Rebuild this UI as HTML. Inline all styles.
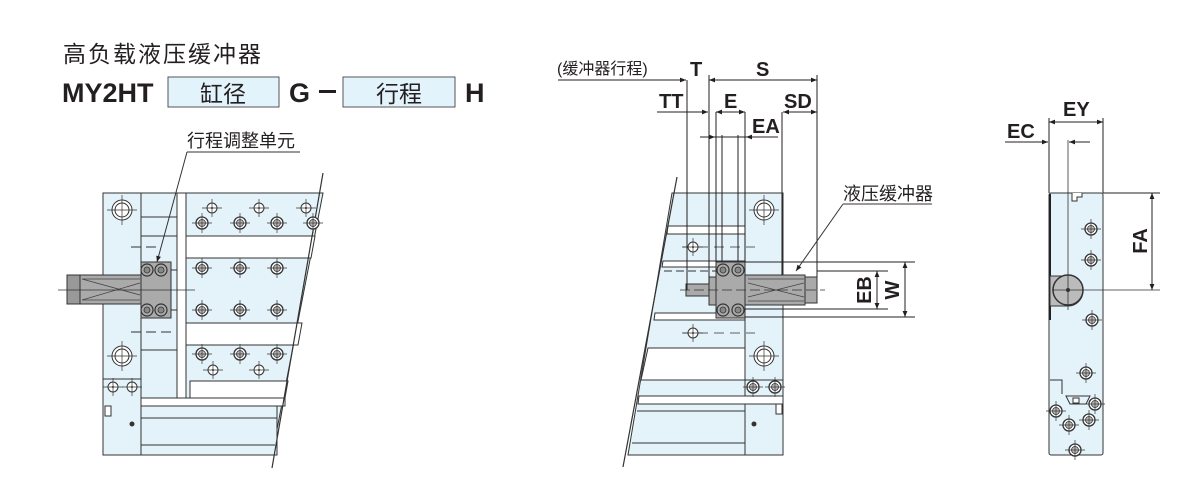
<!DOCTYPE html>
<html><head><meta charset="utf-8"><style>
html,body{margin:0;padding:0;background:#fff;}
svg{display:block;}
text{font-family:"Liberation Sans","Noto Sans CJK SC",sans-serif;fill:#231f20;}
.b{font-weight:bold;}
</style></head><body>
<svg width="1200" height="500" viewBox="0 0 1200 500" xmlns="http://www.w3.org/2000/svg">
<defs>
<marker id="ar" viewBox="0 0 10 10" refX="10" refY="5" markerWidth="8" markerHeight="6" orient="auto-start-reverse"><path d="M0,1 L10,5 L0,9 z" fill="#231f20"/></marker>
<g id="sc"><circle r="6" fill="#fff" stroke="#333" stroke-width="1.3"/><circle r="3.5" fill="#bbb" stroke="#333" stroke-width="0.8"/><line x1="-10" y1="0" x2="10" y2="0" stroke="#333" stroke-width="0.7"/><line x1="0" y1="-10" x2="0" y2="10" stroke="#333" stroke-width="0.7"/></g>
<g id="bh"><circle r="10" fill="#fff" stroke="#333" stroke-width="1"/><circle r="7" fill="none" stroke="#333" stroke-width="1"/><line x1="-15" y1="0" x2="15" y2="0" stroke="#333" stroke-width="0.7"/><line x1="0" y1="-15" x2="0" y2="15" stroke="#333" stroke-width="0.7"/></g>
<g id="sm"><circle r="5" fill="#fff" stroke="#333" stroke-width="1"/><circle r="1" fill="#333"/><line x1="-10" y1="0" x2="10" y2="0" stroke="#333" stroke-width="0.7"/><line x1="0" y1="-9" x2="0" y2="9" stroke="#333" stroke-width="0.7"/></g>
<g id="bs"><circle r="6" fill="#aaa" stroke="#333" stroke-width="1.2"/><circle r="3" fill="#888" stroke="#333" stroke-width="0.8"/></g>
</defs>

<!-- Header -->
<text x="63" y="62" font-size="23" letter-spacing="2">高负载液压缓冲器</text>
<text x="62" y="102" font-size="27" class="b">MY2HT</text>
<rect x="168" y="77" width="111" height="30" fill="#e3f3fb" stroke="#555" stroke-width="1"/>
<text x="223" y="102" font-size="23" text-anchor="middle">缸径</text>
<text x="289" y="102" font-size="27" class="b">G</text>
<rect x="319" y="90" width="17" height="3" fill="#231f20"/>
<rect x="343" y="77" width="112" height="30" fill="#e3f3fb" stroke="#555" stroke-width="1"/>
<text x="399" y="102" font-size="23" text-anchor="middle">行程</text>
<text x="465" y="102" font-size="27" class="b">H</text>

<!-- LEFT VIEW -->
<g stroke="#333" stroke-width="1" fill="#e4f3fa">
<polygon points="186,193 323,193 272,455 186,455"/>
<rect x="103" y="193" width="38" height="262"/>
<rect x="141" y="193" width="36" height="205"/>
<rect x="177" y="193" width="9" height="205" fill="#fff"/>
<rect x="141" y="398" width="144" height="8" fill="#fff"/>
<rect x="141" y="406" width="136" height="49"/>
<polygon points="186,236 315,236 311,258 186,258" fill="#fff"/>
<polygon points="186,323 302,323 298,345 186,345" fill="#fff"/>
<polygon points="190,381 288,381 285,398 190,398" fill="#fff"/>
<line x1="141" y1="418" x2="277" y2="418"/>
<line x1="141" y1="445" x2="275" y2="445"/>
<line x1="141" y1="217" x2="177" y2="217"/>
<line x1="141" y1="236" x2="177" y2="236"/>
<line x1="141" y1="350" x2="177" y2="350"/>
<line x1="141" y1="379" x2="141" y2="398"/>
<line x1="103" y1="379" x2="141" y2="379"/>
</g>
<line x1="323" y1="173" x2="272" y2="468" stroke="#333" stroke-width="1.2"/>
<line x1="131" y1="247" x2="160" y2="247" stroke="#333" stroke-dasharray="10,5"/>
<line x1="131" y1="332" x2="171" y2="332" stroke="#333" stroke-dasharray="10,5"/>
<rect x="67" y="275" width="74" height="29" fill="#aaa" stroke="#333"/>
<rect x="67" y="275" width="13" height="29" fill="#999" stroke="#333"/>
<path d="M82,279 L140,279 M82,300 L140,300 M82,279 L140,295 M82,300 L140,283" stroke="#444" fill="none" stroke-width="0.8"/>
<rect x="141" y="262" width="30" height="56" fill="#aaa" stroke="#333"/>
<line x1="171" y1="270" x2="177" y2="270" stroke="#333"/><line x1="171" y1="310" x2="177" y2="310" stroke="#333"/>
<line x1="58" y1="290" x2="195" y2="290" stroke="#333" stroke-width="0.7"/>
<use href="#bs" x="147" y="270"/><use href="#bs" x="161" y="270"/><use href="#bs" x="147" y="310"/><use href="#bs" x="161" y="310"/>
<use href="#bh" x="122" y="210"/><use href="#bh" x="122" y="356"/>
<use href="#sm" x="212" y="208"/><use href="#sm" x="259" y="208"/><use href="#sm" x="306" y="208"/>
<use href="#sc" x="202" y="223"/><use href="#sc" x="240" y="223"/><use href="#sc" x="277" y="223"/><use href="#sc" x="313" y="223"/>
<use href="#sc" x="202" y="268"/><use href="#sc" x="240" y="268"/><use href="#sc" x="277" y="268"/>
<use href="#sc" x="202" y="310"/><use href="#sc" x="240" y="310"/><use href="#sc" x="277" y="310"/>
<use href="#sc" x="202" y="354"/><use href="#sc" x="240" y="354"/><use href="#sc" x="277" y="354"/>
<use href="#sm" x="213" y="370"/><use href="#sm" x="259" y="370"/>
<use href="#sm" x="113" y="387"/><use href="#sm" x="132" y="387"/>
<rect x="105" y="406" width="6" height="10" fill="#fff" stroke="#333"/>
<circle cx="132" cy="424" r="2.5" fill="#333"/>
<text x="187" y="147" font-size="18">行程调整单元</text>
<line x1="187" y1="152" x2="300" y2="152" stroke="#333"/>
<line x1="187" y1="152" x2="157" y2="262" stroke="#333" marker-end="url(#ar)"/>

<!-- MIDDLE VIEW -->
<g stroke="#333" stroke-width="1" fill="#e4f3fa">
<polygon points="672,193 745,193 745,455 628,455"/>
<rect x="745" y="193" width="38" height="262"/>
<polygon points="668,226 745,226 745,234 667,234" fill="#fff"/>
<polygon points="663,261 745,261 745,267 662,267" fill="#fff"/>
<polygon points="655,313 745,313 745,320 654,320" fill="#fff"/>
<polygon points="648,348 745,348 745,380 641,380" fill="#fff"/>
<polygon points="639,396 783,396 783,404 638,404" fill="#fff"/>
<line x1="637" y1="411" x2="745" y2="411"/>
<line x1="632" y1="443" x2="745" y2="443"/>
<line x1="745" y1="380" x2="783" y2="380"/>
</g>
<line x1="677" y1="177" x2="623" y2="467" stroke="#333" stroke-width="1.2"/>
<line x1="664" y1="271" x2="716" y2="271" stroke="#333" stroke-dasharray="8,4"/>
<line x1="655" y1="313" x2="716" y2="313" stroke="#333" stroke-dasharray="8,4"/>
<line x1="682" y1="247" x2="755" y2="247" stroke="#333" stroke-dasharray="10,6" stroke-width="0.7"/>
<line x1="682" y1="333" x2="755" y2="333" stroke="#333" stroke-dasharray="10,6" stroke-width="0.7"/>
<rect x="686" y="284" width="23" height="12" fill="#aaa" stroke="#333"/>
<rect x="709" y="277" width="7" height="28" fill="#aaa" stroke="#333"/>
<rect x="745" y="275" width="60" height="30" fill="#aaa" stroke="#333"/>
<rect x="805" y="277" width="12" height="26" fill="#aaa" stroke="#333"/>
<path d="M748,279 L804,279 M748,301 L804,301 M748,283 L804,297 M748,297 L804,283" stroke="#444" fill="none" stroke-width="0.8"/>
<rect x="716" y="262" width="29" height="56" fill="#aaa" stroke="#333"/>
<line x1="680" y1="290" x2="825" y2="290" stroke="#333" stroke-width="0.7" stroke-dasharray="10,4"/>
<use href="#bs" x="723" y="270"/><use href="#bs" x="738" y="270"/><use href="#bs" x="723" y="310"/><use href="#bs" x="738" y="310"/>
<use href="#bh" x="764" y="210"/><use href="#bh" x="764" y="356"/>
<use href="#sm" x="693" y="247"/><use href="#sm" x="693" y="333"/>
<use href="#sc" x="753" y="387"/><use href="#sc" x="775" y="387"/>
<rect x="776" y="404" width="6" height="10" fill="#fff" stroke="#333"/>
<circle cx="754" cy="424" r="2.5" fill="#333"/>
<g stroke="#231f20" stroke-width="1" fill="none">
<line x1="687" y1="80" x2="687" y2="290"/>
<line x1="709" y1="75" x2="709" y2="284"/>
<line x1="716" y1="112" x2="716" y2="262"/>
<line x1="722" y1="135" x2="722" y2="262"/>
<line x1="738" y1="135" x2="738" y2="262"/>
<line x1="745" y1="112" x2="745" y2="262"/>
<line x1="782" y1="112" x2="782" y2="275"/>
<line x1="817" y1="75" x2="817" y2="277"/>
<line x1="558" y1="80" x2="686" y2="80" marker-end="url(#ar)"/>
<line x1="709" y1="80" x2="817" y2="80" marker-start="url(#ar)" marker-end="url(#ar)"/>
<line x1="657" y1="112" x2="708" y2="112" marker-end="url(#ar)"/>
<line x1="716" y1="112" x2="745" y2="112" marker-start="url(#ar)" marker-end="url(#ar)"/>
<line x1="783" y1="112" x2="817" y2="112" marker-start="url(#ar)" marker-end="url(#ar)"/>
<line x1="700" y1="137" x2="715" y2="137" marker-end="url(#ar)"/>
<line x1="715" y1="137" x2="746" y2="137"/>
<line x1="778" y1="137" x2="746" y2="137" marker-end="url(#ar)"/>
<line x1="745" y1="262" x2="915" y2="262"/>
<line x1="817" y1="271" x2="888" y2="271"/>
<line x1="745" y1="309" x2="888" y2="309"/>
<line x1="745" y1="317" x2="915" y2="317"/>
<line x1="877" y1="271" x2="877" y2="309" marker-start="url(#ar)" marker-end="url(#ar)"/>
<line x1="905" y1="262" x2="905" y2="317" marker-start="url(#ar)" marker-end="url(#ar)"/>
</g>
<text x="557" y="74" font-size="16">(缓冲器行程)</text>
<text x="690" y="76" font-size="20" class="b">T</text>
<text x="756" y="76" font-size="20" class="b">S</text>
<text x="659" y="108" font-size="20" class="b">TT</text>
<text x="724" y="108" font-size="20" class="b">E</text>
<text x="784" y="108" font-size="20" class="b">SD</text>
<text x="752" y="133" font-size="20" class="b">EA</text>
<text x="871" y="290" font-size="20" class="b" transform="rotate(-90 871 290)" text-anchor="middle">EB</text>
<text x="899" y="290" font-size="20" class="b" transform="rotate(-90 899 290)" text-anchor="middle">W</text>
<text x="843" y="200" font-size="18">液压缓冲器</text>
<line x1="843" y1="204" x2="932" y2="204" stroke="#333"/>
<line x1="843" y1="204" x2="796" y2="271" stroke="#333" marker-end="url(#ar)"/>

<!-- RIGHT VIEW -->
<rect x="1049" y="193" width="54" height="262" rx="2" fill="#e4f3fa" stroke="#333"/>
<line x1="1050" y1="194" x2="1050" y2="320" stroke="#222" stroke-width="2"/>
<path d="M1072,193 v8 h5 v-4 h5 v-4" fill="#fff" stroke="#333"/>
<path d="M1050,276 h18 a15,15 0 0 1 0,30 h-18 z" fill="#bbb" stroke="#333"/>
<circle cx="1068" cy="290" r="15" fill="#bbb" stroke="#333" stroke-width="1.5"/>
<circle cx="1068" cy="290" r="2" fill="#333"/>
<line x1="1052" y1="290" x2="1160" y2="290" stroke="#333" stroke-width="0.8"/>
<line x1="1068" y1="140" x2="1068" y2="310" stroke="#333" stroke-width="0.8"/>
<path d="M1050,380 h12 v14 M1066,396 l4,8 h16 l4,-8 z" fill="none" stroke="#333"/>
<rect x="1073" y="398" width="6" height="5" fill="#fff" stroke="#333"/>
<use href="#sc" x="1091" y="229"/><use href="#sc" x="1091" y="260"/><use href="#sc" x="1092" y="320"/>
<use href="#sc" x="1086" y="373"/><use href="#sc" x="1095" y="404"/><use href="#sc" x="1056" y="411"/>
<use href="#sc" x="1089" y="420"/><use href="#sc" x="1069" y="425"/><use href="#sc" x="1075" y="450"/>
<g stroke="#231f20" fill="none">
<line x1="1049" y1="118" x2="1049" y2="193"/>
<line x1="1103" y1="118" x2="1103" y2="193"/>
<line x1="1049" y1="122" x2="1103" y2="122" marker-start="url(#ar)" marker-end="url(#ar)"/>
<line x1="1005" y1="142" x2="1048" y2="142" marker-end="url(#ar)"/>
<line x1="1090" y1="142" x2="1069" y2="142" marker-end="url(#ar)"/>
<line x1="1103" y1="193" x2="1160" y2="193"/>
<line x1="1152" y1="193" x2="1152" y2="290" marker-start="url(#ar)" marker-end="url(#ar)"/>
</g>
<text x="1063" y="116" font-size="20" class="b">EY</text>
<text x="1007" y="138" font-size="20" class="b">EC</text>
<text x="1147" y="241" font-size="20" class="b" transform="rotate(-90 1147 241)" text-anchor="middle">FA</text>
</svg>
</body></html>
